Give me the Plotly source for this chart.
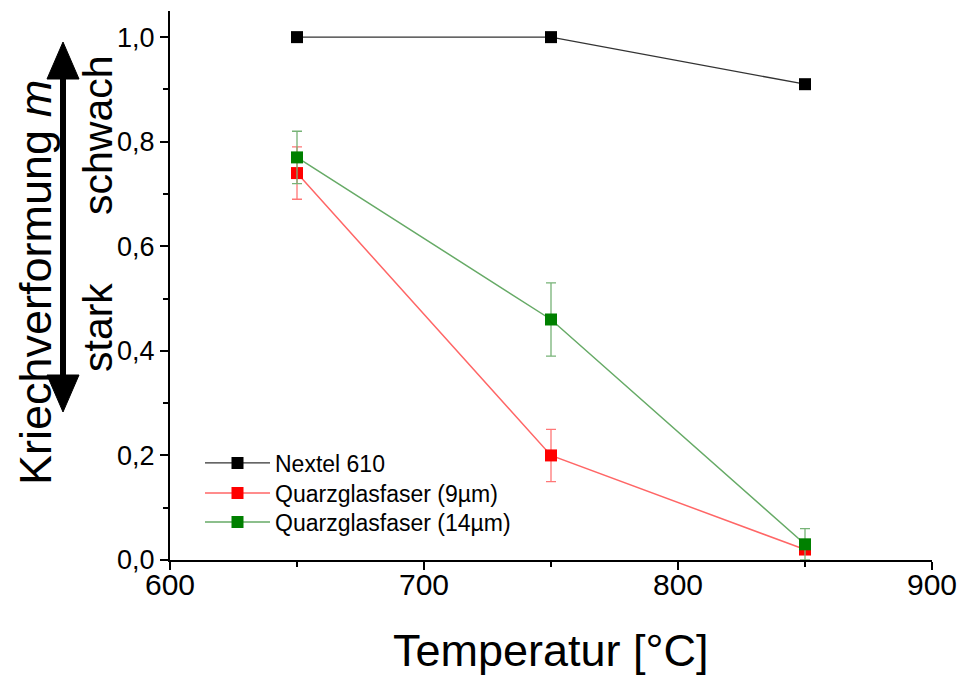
import plotly.graph_objects as go

# ---- data ----
temperature = [650, 750, 850]
nextel_610 = [1.0, 1.0, 0.91]
quarz_9um = [0.74, 0.20, 0.02]
quarz_9um_err = [0.05, 0.05, 0.0]
quarz_14um = [0.77, 0.46, 0.03]
quarz_14um_err = [0.05, 0.07, 0.03]

series_names = ["Nextel 610", "Quarzglasfaser (9µm)", "Quarzglasfaser (14µm)"]
x_ticks = [600, 700, 800, 900]
y_ticks = [0.0, 0.2, 0.4, 0.6, 0.8, 1.0]

FONT = "Liberation Sans, Arial, sans-serif"

# layout geometry (pixels)
W, H = 965, 682
L, R, T, B = 170, 33, 11, 122
PW, PH = W - L - R, H - T - B


def px2paper_x(px):
    return (px - L) / PW


def px2paper_y(py):
    return (H - B - py) / PH


fig = go.Figure()

fig.add_trace(go.Scatter(
    x=temperature, y=nextel_610, name=series_names[0], mode="lines+markers",
    line=dict(color="#333333", width=1.3),
    marker=dict(symbol="square", size=12, color="#000000"),
    legend="legend",
))
fig.add_trace(go.Scatter(
    x=temperature, y=quarz_9um, name=series_names[1], mode="lines+markers",
    line=dict(color="#ff6666", width=1.5),
    marker=dict(symbol="square", size=12, color="#ff0000"),
    error_y=dict(type="data", array=quarz_9um_err, visible=True,
                 color="#ff7777", thickness=1.3, width=5),
    legend="legend2",
))
fig.add_trace(go.Scatter(
    x=temperature, y=quarz_14um, name=series_names[2], mode="lines+markers",
    line=dict(color="#66aa66", width=1.5),
    marker=dict(symbol="square", size=12, color="#008000"),
    error_y=dict(type="data", array=quarz_14um_err, visible=True,
                 color="#77b377", thickness=1.3, width=5),
    legend="legend3",
))

axis_common = dict(
    showline=True, linecolor="black", linewidth=2,
    ticks="outside", ticklen=8, tickwidth=2, tickcolor="black",
    showgrid=False, zeroline=False,
)

fig.update_xaxes(
    range=[600, 900], tickvals=x_ticks,
    tickfont=dict(family=FONT, size=30, color="black"),
    ticklabelstandoff=-11,
    minor=dict(ticks="outside", ticklen=5, tickwidth=2, tickcolor="black",
               dtick=50, tick0=600, showgrid=False),
    **axis_common,
)
fig.update_yaxes(
    range=[0, 1.05], tickvals=y_ticks, tickformat=".1f",
    tickfont=dict(family=FONT, size=27, color="black"),
    minor=dict(ticks="outside", ticklen=5, tickwidth=2, tickcolor="black",
               dtick=0.1, tick0=0, showgrid=False),
    **axis_common,
)

# double-headed arrow on the left
ax = px2paper_x(63)
top_tip, bot_tip = px2paper_y(42), px2paper_y(412)
head_len = 37 / PH
half_w = 16 / PW
shapes = [
    dict(type="line", xref="paper", yref="paper", x0=ax, x1=ax,
         y0=bot_tip + head_len * 0.8, y1=top_tip - head_len * 0.8,
         line=dict(color="black", width=6)),
    dict(type="path", xref="paper", yref="paper", fillcolor="black",
         line=dict(color="black", width=1),
         path=f"M {ax} {top_tip} L {ax - half_w} {top_tip - head_len} L {ax + half_w} {top_tip - head_len} Z"),
    dict(type="path", xref="paper", yref="paper", fillcolor="black",
         line=dict(color="black", width=1),
         path=f"M {ax} {bot_tip} L {ax - half_w} {bot_tip + head_len} L {ax + half_w} {bot_tip + head_len} Z"),
]

annotations = [
    dict(text="Kriechverformung <i>m</i>", xref="paper", yref="paper",
         x=px2paper_x(35), y=px2paper_y(283), textangle=-90, showarrow=False,
         xanchor="center", yanchor="middle",
         font=dict(family=FONT, size=45, color="black")),
    dict(text="schwach", xref="paper", yref="paper",
         x=px2paper_x(98), y=px2paper_y(135), textangle=-90, showarrow=False,
         xanchor="center", yanchor="middle",
         font=dict(family=FONT, size=41, color="black")),
    dict(text="stark", xref="paper", yref="paper",
         x=px2paper_x(98), y=px2paper_y(328), textangle=-90, showarrow=False,
         xanchor="center", yanchor="middle",
         font=dict(family=FONT, size=41, color="black")),
    dict(text="Temperatur [°C]", xref="paper", yref="paper",
         x=0.5, y=px2paper_y(650), showarrow=False,
         xanchor="center", yanchor="middle",
         font=dict(family=FONT, size=45, color="black")),
]

legend_common = dict(
    xanchor="left", yanchor="middle", bgcolor="rgba(0,0,0,0)", borderwidth=0,
    itemwidth=65, font=dict(family=FONT, size=23, color="black"),
)
legend_rows_px = [463, 493, 522]

fig.update_layout(
    width=W, height=H,
    margin=dict(l=L, r=R, t=T, b=B, autoexpand=False),
    paper_bgcolor="white", plot_bgcolor="white",
    separators=",.",
    showlegend=True,
    legend=dict(x=px2paper_x(200), y=px2paper_y(legend_rows_px[0]), **legend_common),
    legend2=dict(x=px2paper_x(200), y=px2paper_y(legend_rows_px[1]), **legend_common),
    legend3=dict(x=px2paper_x(200), y=px2paper_y(legend_rows_px[2]), **legend_common),
    shapes=shapes,
    annotations=annotations,
)

fig.write_html("out.html", config={"displayModeBar": False})

# remove default browser body margin so the figure sits at the page origin
with open("out.html", "r", encoding="utf-8") as fh:
    html = fh.read()
html = html.replace("<body>", '<body style="margin:0;padding:0;">', 1)
with open("out.html", "w", encoding="utf-8") as fh:
    fh.write(html)
